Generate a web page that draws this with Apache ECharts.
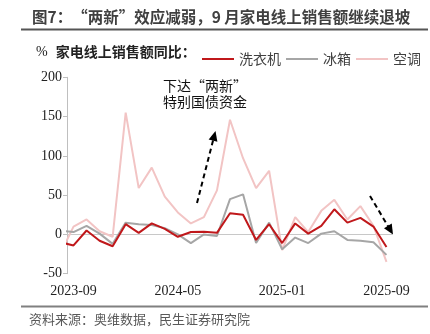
<!DOCTYPE html>
<html><head><meta charset="utf-8">
<script src="https://cdn.jsdelivr.net/npm/echarts@6/dist/echarts.min.js"></script>
<style>html,body{margin:0;padding:0;background:#fff}#c{width:430px;height:334px}</style>
</head><body><div id="c"></div>
<script>
const categories = ['2023-08','2023-09','2023-10','2023-11','2023-12','2024-01','2024-02','2024-03','2024-04','2024-05','2024-06','2024-07','2024-08','2024-09','2024-10','2024-11','2024-12','2025-01','2025-02','2025-03','2025-04','2025-05','2025-06','2025-07','2025-08','2025-09'];
const washer = [-10,-14,5,-8,-15,13,2,14,7,-3,3,3.5,2,27,25,-7,13,-11,14,1,11,32,15,21,10,-16];
const fridge = [5,3,11,1,-12,15,13,12,8,0,-11,0,-2,45,51,-11,15,-19,-4,-11,1,4,-7,-8,-10,-26];
const aircon = [-24,10,19,4,-3,155,59,85,48,28,14,22,56,146,97,59,81,-20,22,3,30,44,19,36,11,-35];
const xTickLabels = ['2023-09','2024-05','2025-01','2025-09'];
const yTicks = {min:-50, max:200, interval:50};

const chart = echarts.init(document.getElementById('c'), null, {renderer:'canvas'});
const cjk = '"Noto Sans CJK SC", "Noto Sans", sans-serif';
const serif = '"Liberation Serif", "DejaVu Serif", serif';

function arrow(x1,y1,x2,y2){
  const dx=x2-x1, dy=y2-y1, L=Math.hypot(dx,dy), ux=dx/L, uy=dy/L;
  const hl=10, hw=4.5;
  const bx=x2-ux*hl, by=y2-uy*hl;
  return [
    {type:'line', shape:{x1:x1,y1:y1,x2:bx+ux*1,y2:by+uy*1}, style:{stroke:'#000', lineWidth:2, lineDash:[5,3.5]}},
    {type:'polygon', shape:{points:[[x2,y2],[bx-uy*hw,by+ux*hw],[bx+uy*hw,by-ux*hw]]}, style:{fill:'#000'}}
  ];
}

const mk = (name, data, color, z) => ({
  name, type:'line', data, symbol:'none', smooth:false, z,
  lineStyle:{color, width:2}, itemStyle:{color}, clip:true
});

const series = [
  mk('空调', aircon, '#F2C4C4', 3),
  mk('冰箱', fridge, '#A6A6A6', 4),
  mk('洗衣机', washer, '#C0181B', 5)
];
series[0].markLine = {silent:true, symbol:'none', label:{show:false}, z:1,
  lineStyle:{color:'#C8C8C8', width:1, type:'solid'}, data:[{yAxis:0}]};

chart.setOption({
  backgroundColor:'#fff',
  animation:false,
  grid:{left:67, right:37, top:77.3, bottom:60.3, containLabel:false},
  legend:{
    data:['洗衣机','冰箱','空调'], left:197, top:47, icon:'rect', itemWidth:32, itemHeight:2, itemGap:5,
    textStyle:{fontFamily:cjk, fontSize:14, color:'#404040'}
  },
  xAxis:{
    type:'category', data:categories, min:'2023-09', boundaryGap:true,
    axisLine:{show:false}, axisTick:{show:false},
    axisLabel:{fontFamily:serif, fontSize:14, color:'#222', margin:11,
      interval:(i,v)=>xTickLabels.includes(v)}
  },
  yAxis:{
    type:'value', min:yTicks.min, max:yTicks.max, interval:yTicks.interval,
    axisLine:{show:true, lineStyle:{color:'#BFBFBF', width:1}},
    axisTick:{show:true, length:4, lineStyle:{color:'#BFBFBF'}},
    splitLine:{show:false},
    axisLabel:{fontFamily:serif, fontSize:14, color:'#222', margin:5}
  },
  series,
  graphic:[
    {type:'text', left:32, top:9, style:{text:'图7：“两新”效应减弱，9 月家电线上销售额继续退坡', font:'bold 15.5px '+cjk, fill:'#404040'}},
    {type:'line', shape:{x1:21,y1:29.5,x2:428,y2:29.5}, style:{stroke:'#555', lineWidth:2}},
    {type:'text', left:36, top:45, style:{rich:{a:{fontFamily:serif, fontSize:14, fill:'#222', padding:[0,8,0,0]}, b:{fontFamily:cjk, fontSize:14, fontWeight:'bold', fill:'#222'}}, text:'{a|%}{b|家电线上销售额同比：}'}},
    {type:'text', left:163, top:79, style:{text:'下达“两新”', font:'14px '+cjk, fill:'#111'}},
    {type:'text', left:163, top:95, style:{text:'特别国债资金', font:'14px '+cjk, fill:'#111'}},
    ...arrow(197,203,215.5,131),
    ...arrow(370,196,393,234.5),
    {type:'line', shape:{x1:21,y1:306.5,x2:428,y2:306.5}, style:{stroke:'#808080', lineWidth:2}},
    {type:'text', left:29, top:313, style:{text:'资料来源：奥维数据，民生证券研究院', font:'13px '+cjk, fill:'#595959'}}
  ]
});
</script></body></html>
